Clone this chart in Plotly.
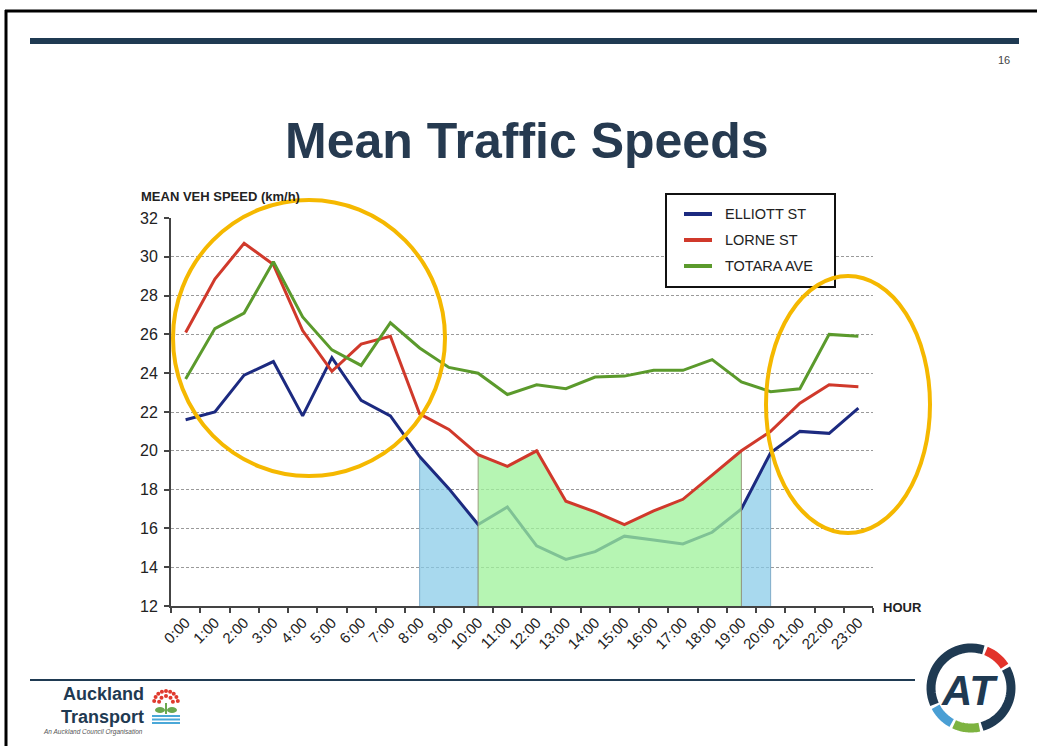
import math
import plotly.graph_objects as go

# ---------------- data ----------------
hours = ["0:00", "1:00", "2:00", "3:00", "4:00", "5:00", "6:00", "7:00",
         "8:00", "9:00", "10:00", "11:00", "12:00", "13:00", "14:00", "15:00",
         "16:00", "17:00", "18:00", "19:00", "20:00", "21:00", "22:00", "23:00"]
elliott = [21.6, 22.0, 23.9, 24.6, 21.8, 24.8, 22.6, 21.8, 19.7, 18.05, 16.2, 17.1,
           15.1, 14.4, 14.8, 15.6, 15.4, 15.2, 15.8, 17.0, 19.9, 21.0, 20.9, 22.2]
lorne = [26.1, 28.85, 30.7, 29.6, 26.2, 24.1, 25.5, 25.9, 21.9, 21.1, 19.8, 19.2,
         20.0, 17.4, 16.85, 16.2, 16.9, 17.5, 18.75, 20.0, 21.0, 22.45, 23.4, 23.3]
totara = [23.7, 26.3, 27.1, 29.75, 26.9, 25.2, 24.4, 26.6, 25.3, 24.3, 24.0, 22.9,
          23.4, 23.2, 23.8, 23.85, 24.15, 24.15, 24.7, 23.55, 23.05, 23.2, 26.0, 25.9]
series_names = ["ELLIOTT ST", "LORNE ST", "TOTARA AVE"]
y_min, y_max = 12, 32
# shaded periods (start, end hour index)
am_peak = (8, 10)       # under ELLIOTT ST
inter_peak = (10, 19)   # under LORNE ST
pm_peak = (19, 20)      # under ELLIOTT ST

# ---------------- styling ----------------
C_ELL = "#1c2a80"
C_LOR = "#d0392b"
C_TOT = "#5b9a2c"
NAVY = "#1f3a52"
GOLD = "#f5b800"
FONT = "Liberation Sans, Arial, sans-serif"

W, H = 1037, 746
L, R, T, B = 171, 164, 218, 140
PW, PH = W - L - R, H - T - B


def px(x):
    return (x - L) / PW


def py(y):
    return (H - B - y) / PH


fig = go.Figure()


def area(idx, values, fillcolor, edge):
    a, b = idx
    xs = [hours[a]] + hours[a:b + 1] + [hours[b]]
    ys = [y_min] + values[a:b + 1] + [y_min]
    fig.add_trace(go.Scatter(x=xs, y=ys, mode="lines", fill="toself",
                             fillcolor=fillcolor, line=dict(color=edge, width=1),
                             hoverinfo="skip", showlegend=False))


area(am_peak, elliott, "rgba(134,202,231,0.72)", "rgba(120,165,195,0.9)")
area(pm_peak, elliott, "rgba(134,202,231,0.72)", "rgba(120,165,195,0.9)")
fig.add_trace(go.Scatter(x=hours, y=elliott, mode="lines", name=series_names[0],
                         line=dict(color=C_ELL, width=3), showlegend=False))
area(inter_peak, lorne, "rgba(159,242,155,0.76)", "rgba(150,145,120,0.9)")
fig.add_trace(go.Scatter(x=hours, y=lorne, mode="lines", name=series_names[1],
                         line=dict(color=C_LOR, width=3), showlegend=False))
fig.add_trace(go.Scatter(x=hours, y=totara, mode="lines", name=series_names[2],
                         line=dict(color=C_TOT, width=3), showlegend=False))

shapes = []
annotations = []

# slide frame
shapes.append(dict(type="line", xref="paper", yref="paper", x0=px(5), x1=px(1040),
                   y0=py(11), y1=py(11), line=dict(color="#000", width=3)))
shapes.append(dict(type="line", xref="paper", yref="paper", x0=px(6), x1=px(6),
                   y0=py(10), y1=py(750), line=dict(color="#000", width=3)))
# header bar
shapes.append(dict(type="rect", xref="paper", yref="paper", x0=px(30), x1=px(1019),
                   y0=py(44), y1=py(38), fillcolor=NAVY, line=dict(width=0)))
# footer line
shapes.append(dict(type="line", xref="paper", yref="paper", x0=px(30), x1=px(915),
                   y0=py(680), y1=py(680), line=dict(color=NAVY, width=2)))

# legend box (manual)
shapes.append(dict(type="rect", xref="paper", yref="paper", x0=px(666), x1=px(835),
                   y0=py(287), y1=py(194), fillcolor="white",
                   line=dict(color="#111", width=2), layer="above"))
for i, (nm, col) in enumerate(zip(series_names, [C_ELL, C_LOR, C_TOT])):
    yy = 214 + i * 26
    shapes.append(dict(type="line", xref="paper", yref="paper", x0=px(684), x1=px(712),
                       y0=py(yy), y1=py(yy), line=dict(color=col, width=4), layer="above"))
    annotations.append(dict(text=nm, xref="paper", yref="paper", x=px(723), y=py(yy),
                            xanchor="left", yanchor="middle", showarrow=False,
                            font=dict(family=FONT, size=14.5, color="#222")))

# highlight ellipses
shapes.append(dict(type="circle", xref="paper", yref="paper", x0=px(173), x1=px(445),
                   y0=py(476), y1=py(200), line=dict(color=GOLD, width=4), layer="above"))
shapes.append(dict(type="circle", xref="paper", yref="paper", x0=px(766), x1=px(930),
                   y0=py(533), y1=py(276), line=dict(color=GOLD, width=4), layer="above"))


# AT logo ring
def arc(cx, cy, r, a0, a1, color, width):
    pts = []
    n = 24
    for k in range(n + 1):
        a = math.radians(a0 + (a1 - a0) * k / n)
        pts.append((px(cx + r * math.cos(a)), py(cy - r * math.sin(a))))
    path = "M " + " L ".join(f"{x:.5f},{y:.5f}" for x, y in pts)
    shapes.append(dict(type="path", xref="paper", yref="paper", path=path,
                       line=dict(color=color, width=width)))


cx, cy, rr = 971, 688, 40
arc(cx, cy, rr, 72, 204, NAVY, 9)
arc(cx, cy, rr, 33, 68, "#e2332b", 9)
arc(cx, cy, rr, 208, 241, "#4a9fd4", 9)
arc(cx, cy, rr, 245, 282, "#7db340", 9)
arc(cx, cy, rr, 286, 389, NAVY, 9)
annotations.append(dict(text="<b><i>AT</i></b>", xref="paper", yref="paper",
                        x=px(969), y=py(690), xanchor="center", yanchor="middle",
                        showarrow=False, font=dict(family=FONT, size=42, color=NAVY)))

# Auckland Transport logo
annotations.append(dict(text="<b>Auckland<br>Transport</b>", xref="paper", yref="paper",
                        x=px(146), y=py(705), xanchor="right", yanchor="middle",
                        align="right", showarrow=False,
                        font=dict(family=FONT, size=18, color=NAVY)))
annotations.append(dict(text="<i>An Auckland Council Organisation</i>", xref="paper",
                        yref="paper", x=px(145), y=py(732), xanchor="right",
                        yanchor="middle", showarrow=False, height=8, valign="middle",
                        font=dict(family=FONT, size=6.5, color="#555")))
fcx, fcy = 166, 703
for ang in range(10, 180, 20):
    for rad in (7, 12):
        if rad == 7 and ang % 40 != 10:
            continue
        xx = fcx + rad * math.cos(math.radians(ang))
        yy = fcy - rad * math.sin(math.radians(ang))
        shapes.append(dict(type="circle", xref="paper", yref="paper",
                           x0=px(xx - 2), x1=px(xx + 2), y0=py(yy + 2), y1=py(yy - 2),
                           fillcolor="#e03a2e", line=dict(width=0)))
shapes.append(dict(type="line", xref="paper", yref="paper", x0=px(166), x1=px(166),
                   y0=py(703), y1=py(714), line=dict(color="#6aa84f", width=2)))
shapes.append(dict(type="circle", xref="paper", yref="paper", x0=px(155), x1=px(165),
                   y0=py(713), y1=py(707), fillcolor="#6aa84f", line=dict(width=0)))
shapes.append(dict(type="circle", xref="paper", yref="paper", x0=px(167), x1=px(177),
                   y0=py(713), y1=py(707), fillcolor="#6aa84f", line=dict(width=0)))
for yy in (716, 719.5, 723):
    shapes.append(dict(type="line", xref="paper", yref="paper", x0=px(152), x1=px(180),
                       y0=py(yy), y1=py(yy), line=dict(color="#4aa8d8", width=2)))

# texts
annotations.append(dict(text="<b>Mean Traffic Speeds</b>", xref="paper", yref="paper",
                        x=px(527), y=py(141), xanchor="center", yanchor="middle",
                        showarrow=False, font=dict(family=FONT, size=50, color="#263a50")))
annotations.append(dict(text="16", xref="paper", yref="paper", x=px(1012), y=py(60),
                        xanchor="right", yanchor="middle", showarrow=False,
                        font=dict(family=FONT, size=11, color="#444")))
annotations.append(dict(text="<b>MEAN VEH SPEED (km/h)</b>", xref="paper", yref="paper",
                        x=px(139), y=py(196), xanchor="left", yanchor="middle",
                        showarrow=False, font=dict(family=FONT, size=13, color="#222")))
annotations.append(dict(text="<b>HOUR</b>", xref="paper", yref="paper",
                        x=px(881), y=py(607), xanchor="left", yanchor="middle",
                        showarrow=False, font=dict(family=FONT, size=13, color="#222")))

fig.update_layout(
    width=W, height=H,
    margin=dict(l=L, r=R, t=T, b=B, pad=0),
    paper_bgcolor="white", plot_bgcolor="white",
    showlegend=False,
    shapes=shapes, annotations=annotations,
    font=dict(family=FONT, size=15, color="#222"),
)
fig.update_xaxes(type="category", categoryorder="array", categoryarray=hours,
                 range=[-0.5, 23.5], tickson="boundaries", ticks="outside", ticklen=5,
                 tickcolor="#444", tickwidth=1.5, showline=True, linecolor="#444",
                 linewidth=2, tickangle=-45, showgrid=False, automargin=False,
                 tickfont=dict(family=FONT, size=15, color="#222"), zeroline=False)
fig.update_yaxes(range=[y_min, y_max], dtick=2, ticks="outside", ticklen=5,
                 tickcolor="#444", tickwidth=1.5, showline=True, linecolor="#444",
                 linewidth=2, showgrid=True, gridcolor="#9a9a9a", gridwidth=1,
                 griddash="3px,2px", zeroline=False, automargin=False,
                 ticklabelstandoff=3,
                 tickfont=dict(family=FONT, size=16, color="#222"))

fig.write_html("out.html",
               config={"displayModeBar": False},
               post_script="document.body.style.margin='0px';"
                           "document.body.style.overflow='hidden';")
